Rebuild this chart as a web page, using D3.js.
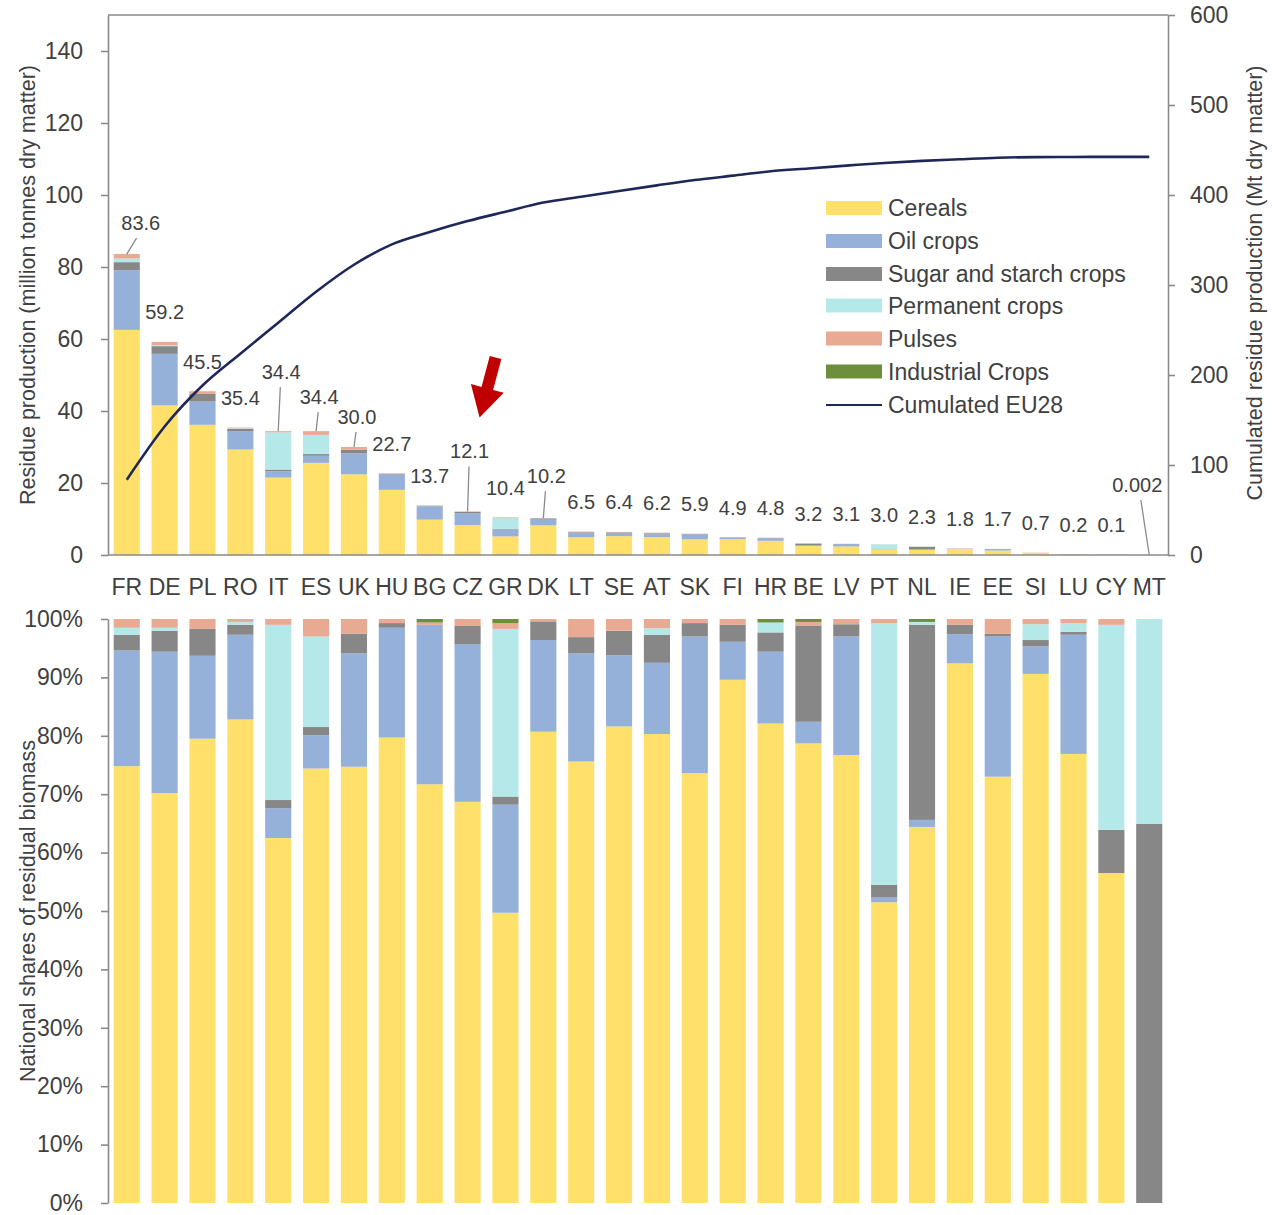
<!DOCTYPE html>
<html><head><meta charset="utf-8">
<script src="https://cdn.jsdelivr.net/npm/d3@7"></script>
<style>body{margin:0;background:#fff} svg{display:block} text{font-family:"Liberation Sans", Arial, sans-serif}</style>
</head><body><svg id="c" width="1272" height="1215"></svg>
<script>
const countries = ["FR","DE","PL","RO","IT","ES","UK","HU","BG","CZ","GR","DK","LT","SE","AT","SK","FI","HR","BE","LV","PT","NL","IE","EE","SI","LU","CY","MT"];
const totals = [83.6,59.2,45.5,35.4,34.4,34.4,30.0,22.7,13.7,12.1,10.4,10.2,6.5,6.4,6.2,5.9,4.9,4.8,3.2,3.1,3.0,2.3,1.8,1.7,0.7,0.2,0.1,0.002];
const totalLabels = ["83.6","59.2","45.5","35.4","34.4","34.4","30.0","22.7","13.7","12.1","10.4","10.2","6.5","6.4","6.2","5.9","4.9","4.8","3.2","3.1","3.0","2.3","1.8","1.7","0.7","0.2","0.1","0.002"];
// national shares (%) per crop group
const cereals        = [74.8,70.2,79.5,82.8,62.5,74.4,74.7,79.7,71.7,68.7,49.7,80.7,75.6,81.6,80.3,73.6,89.6,82.1,78.7,76.7,51.5,64.4,92.4,73.0,90.6,76.9,56.5,0];
const oilCrops       = [19.8,24.2,14.2,14.5,5.1,5.7,19.4,18.8,27.3,27.0,18.5,15.7,18.5,12.2,12.2,23.4,6.5,12.3,3.7,20.3,0.8,1.2,5.0,24.0,4.7,20.4,0,0];
const sugarStarch    = [2.7,3.6,4.6,1.7,1.4,1.4,3.4,0.8,0,3.1,1.4,3.2,2.8,4.2,4.8,2.3,2.9,3.3,16.5,2.1,2.2,33.4,1.6,0.5,1.1,0.5,7.4,64.9];
const permanentCrops = [1.2,0.5,0,0.5,30.0,15.5,0,0,0,0,28.7,0,0,0,1.1,0,0,1.7,0,0,44.8,0.5,0,0,2.7,1.5,35.1,35.1];
const pulses         = [1.5,1.5,1.7,0.5,1.0,3.0,2.5,0.7,0.4,1.2,1.0,0.4,3.1,2.0,1.6,0.7,1.0,0,0.6,0.9,0.7,0,1.0,2.5,0.9,0.7,1.0,0];
const industrialCrops= [0,0,0,0,0,0,0,0,0.6,0,0.7,0,0,0,0,0,0,0.6,0.5,0,0,0.5,0,0,0,0,0,0];
const seriesNames = ["Cereals","Oil crops","Sugar and starch crops","Permanent crops","Pulses","Industrial Crops"];
const lineName = "Cumulated EU28";
const leftTicks = [0,20,40,60,80,100,120,140];
const rightTicks = [0,100,200,300,400,500,600];
const shareTicks = [0,0.1,0.2,0.3,0.4,0.5,0.6,0.7,0.8,0.9,1.0];

const colors = ["#FFE06B","#95B0D9","#878787","#B5E8E8","#E8AA92","#6D8E3A"];
const lineColor = "#1E2758";
const axisColor = "#8a8a8a";
const textColor = "#404040";

const shareArrays = [cereals, oilCrops, sugarStarch, permanentCrops, pulses, industrialCrops];
const shareRows = countries.map((c,i)=>{const r={country:c}; seriesNames.forEach((s,k)=>r[s]=shareArrays[k][i]/100); return r;});
const valueRows = countries.map((c,i)=>{const r={country:c}; seriesNames.forEach((s,k)=>r[s]=shareArrays[k][i]/100*totals[i]); return r;});
let acc=0; const cumulative = totals.map(t=>acc+=t);

const svg = d3.select("#c");
svg.append("rect").attr("width",1272).attr("height",1215).attr("fill","#fff");

const x = d3.scaleBand().domain(countries).range([108,1168]).paddingInner(0.31).paddingOuter(0.15);
const yTop = d3.scaleLinear().domain([0,150]).range([555,15]);
const yCum = d3.scaleLinear().domain([0,600]).range([555,15]);
const yShare = d3.scaleLinear().domain([0,1]).range([1203,619]);
const color = d3.scaleOrdinal().domain(seriesNames).range(colors);
const stack = d3.stack().keys(seriesNames);

// top stacked bars
svg.append("g").selectAll("g").data(stack(valueRows)).join("g").attr("fill",d=>color(d.key))
  .selectAll("rect").data(d=>d).join("rect")
  .attr("x",d=>x(d.data.country)).attr("width",x.bandwidth())
  .attr("y",d=>yTop(d[1])).attr("height",d=>Math.max(0,yTop(d[0])-yTop(d[1])));

// bottom stacked bars
svg.append("g").selectAll("g").data(stack(shareRows)).join("g").attr("fill",d=>color(d.key))
  .selectAll("rect").data(d=>d).join("rect")
  .attr("x",d=>x(d.data.country)).attr("width",x.bandwidth())
  .attr("y",d=>yShare(d[1])).attr("height",d=>Math.max(0,yShare(d[0])-yShare(d[1])));

function styleAxis(g){
  g.selectAll("path.domain").attr("stroke",axisColor).attr("stroke-width",1.6);
  g.selectAll(".tick line").attr("stroke",axisColor).attr("stroke-width",1.6);
  g.selectAll(".tick text").attr("fill",textColor).style("font-size","23px").style("font-family","'Liberation Sans', Arial, sans-serif");
}
// frame
svg.append("line").attr("x1",108).attr("x2",1168).attr("y1",15).attr("y2",15).attr("stroke",axisColor).attr("stroke-width",1.6);
svg.append("line").attr("x1",108).attr("x2",1168).attr("y1",555).attr("y2",555).attr("stroke",axisColor).attr("stroke-width",1.6);
svg.append("g").attr("transform","translate(108,0)")
  .call(d3.axisLeft(yTop).tickValues(leftTicks).tickSize(7).tickPadding(18).tickSizeOuter(0)).call(styleAxis);
svg.append("g").attr("transform","translate(1168,0)")
  .call(d3.axisRight(yCum).tickValues(rightTicks).tickSize(7).tickPadding(15).tickSizeOuter(0)).call(styleAxis);
svg.append("g").attr("transform","translate(108,0)")
  .call(d3.axisLeft(yShare).tickValues(shareTicks).tickFormat(d3.format(".0%")).tickSize(7).tickPadding(18).tickSizeOuter(0)).call(styleAxis);

// category labels
svg.append("g").selectAll("text").data(countries).join("text")
  .attr("x",d=>x(d)+x.bandwidth()/2).attr("y",587).attr("dy","0.35em")
  .attr("text-anchor","middle").attr("fill",textColor).style("font-size","23px").text(d=>d);

// cumulative line
const line = d3.line().x((d,i)=>x(countries[i])+x.bandwidth()/2).y(d=>yCum(d)).curve(d3.curveMonotoneX);
svg.append("path").datum(cumulative).attr("d",line).attr("fill","none").attr("stroke",lineColor).attr("stroke-width",2.6);

// value labels
const labelLayout = {FR:{dx:14,lift:31,leader:true}, IT:{dx:3,lift:59,leader:true}, ES:{dx:3,lift:34,leader:true},
  UK:{dx:3,lift:30,leader:true}, CZ:{dx:2,lift:60,leader:true}, DK:{dx:3,lift:42,leader:true}, MT:{dx:-12,lift:70,leader:true}};
const lab = svg.append("g");
countries.forEach((c,i)=>{
  const L = labelLayout[c] || {dx:0,lift:29.5,leader:false};
  const cx = x(c)+x.bandwidth()/2, top = yTop(totals[i]);
  const lx = cx+L.dx, ly = top-L.lift;
  if(L.leader){
    lab.append("line").attr("x1",lx-L.dx*0.3).attr("y1",ly+15).attr("x2",cx).attr("y2",top)
      .attr("stroke","#8a8a8a").attr("stroke-width",1.3);
  }
  lab.append("text").attr("x",lx).attr("y",ly).attr("dy","0.35em").attr("text-anchor","middle")
    .attr("fill",textColor).style("font-size","20px").text(totalLabels[i]);
});

// legend
const legend = svg.append("g");
const legX = 826, legY0 = 208, legStep = 33;
seriesNames.forEach((s,k)=>{
  const yy = legY0 + k*legStep - (k>=3? 1.5:0);
  legend.append("rect").attr("x",legX).attr("y",yy-7).attr("width",56).attr("height",14).attr("fill",color(s));
  legend.append("text").attr("x",legX+62).attr("y",yy).attr("dy","0.35em").attr("fill",textColor).style("font-size","23px").text(s);
});
{
  const yy = legY0 + 6*legStep - 1;
  legend.append("line").attr("x1",legX).attr("x2",legX+56).attr("y1",yy).attr("y2",yy).attr("stroke",lineColor).attr("stroke-width",2.2);
  legend.append("text").attr("x",legX+62).attr("y",yy).attr("dy","0.35em").attr("fill",textColor).style("font-size","23px").text(lineName);
}

// axis titles
function title(txt, cx, cy, len){
  svg.append("text").attr("transform",`translate(${cx},${cy}) rotate(-90)`).attr("text-anchor","middle").attr("dy","0.35em")
    .attr("fill",textColor).style("font-size","22px").attr("textLength",len).attr("lengthAdjust","spacingAndGlyphs").text(txt);
}
title("Residue production (million tonnes dry matter)", 27, 285, 440);
title("Cumulated residue production (Mt dry matter)", 1254, 283, 435);
title("National shares of residual biomass", 27, 911, 342);

// red arrow annotation
{
  const czX = x("CZ")+x.bandwidth()/2, czTop = yTop(totals[countries.indexOf("CZ")]);
  const tip=[czX+12, czTop-94], tail=[czX+28, czTop-154];
  const dx=tip[0]-tail[0], dy=tip[1]-tail[1], L=Math.hypot(dx,dy);
  const u=[dx/L,dy/L], n=[-u[1],u[0]];
  const base=[tip[0]-u[0]*30, tip[1]-u[1]*30];
  const p=(a,s)=>[a[0]+n[0]*s, a[1]+n[1]*s];
  const pts=[p(tail,6),p(base,6),p(base,17),tip,p(base,-17),p(base,-6),p(tail,-6)];
  svg.append("polygon").attr("points",pts.map(q=>q.join(",")).join(" ")).attr("fill","#C00000");
}
</script></body></html>
